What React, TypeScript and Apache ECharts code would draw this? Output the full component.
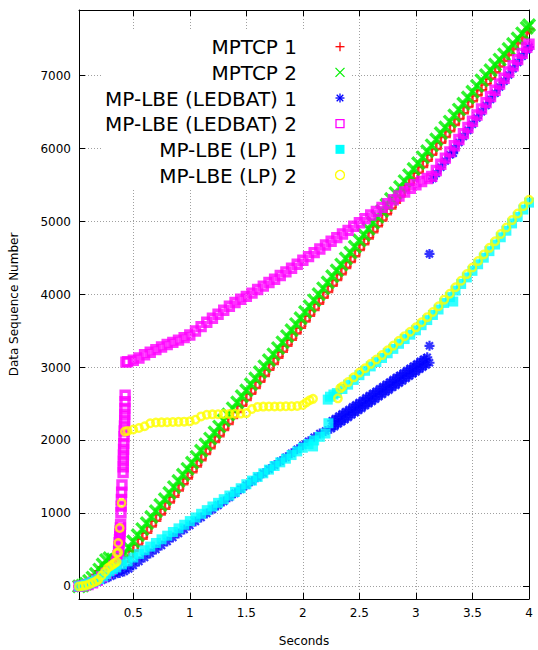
import React, { useEffect, useRef } from "react";
import * as echarts from "echarts";

const X_MIN = 0.02;
const X_MAX = 4;
const Y_MIN = -173;
const Y_MAX = 7900;

const SERIES_NAMES = [
  "MPTCP 1",
  "MPTCP 2",
  "MP-LBE (LEDBAT) 1",
  "MP-LBE (LEDBAT) 2",
  "MP-LBE (LP) 1",
  "MP-LBE (LP) 2",
];
const SERIES_COLORS = ["#ff0000", "#00f000", "#0000ff", "#ff00ff", "#00ffff", "#ffff00"];

const MPTCP_1 = [
  [0.02, 0], [0.05, 8], [0.08, 28], [0.11, 60], [0.14, 100], [0.17, 150], [0.2, 205], [0.23, 260], [0.26, 300], [0.29, 310], [0.32, 300], [0.35, 295], [0.38, 310], [0.42, 340],
  [0.46, 400], [0.5, 485], [0.54, 570], [0.58, 655], [0.62, 735], [0.66, 820], [0.7, 900], [0.74, 985], [0.78, 1065], [0.82, 1150], [0.86, 1230], [0.9, 1315], [0.94, 1400], [0.98, 1480],
  [1.02, 1565], [1.06, 1645], [1.1, 1730], [1.14, 1815], [1.18, 1895], [1.22, 1980], [1.26, 2060], [1.3, 2145], [1.34, 2225], [1.38, 2310], [1.42, 2390], [1.46, 2475], [1.5, 2555],
  [1.54, 2640], [1.58, 2720], [1.62, 2805], [1.66, 2885], [1.7, 2970], [1.74, 3050], [1.78, 3135], [1.82, 3215], [1.86, 3300], [1.9, 3380], [1.94, 3465], [1.98, 3545],
  [2.02, 3630], [2.06, 3710], [2.1, 3790], [2.14, 3875], [2.18, 3955], [2.22, 4035], [2.26, 4120], [2.3, 4200], [2.34, 4280], [2.38, 4365], [2.42, 4445], [2.46, 4525], [2.5, 4610],
  [2.54, 4690], [2.58, 4770], [2.62, 4855], [2.66, 4935], [2.7, 5015], [2.74, 5100], [2.78, 5180], [2.82, 5260], [2.86, 5345], [2.9, 5425], [2.94, 5505], [2.98, 5590],
  [3.02, 5670], [3.06, 5750], [3.1, 5835], [3.14, 5915], [3.18, 5995], [3.22, 6080], [3.26, 6160], [3.3, 6240], [3.34, 6325], [3.38, 6405], [3.42, 6485], [3.46, 6570], [3.5, 6650],
  [3.54, 6730], [3.58, 6800], [3.62, 6880], [3.66, 6960], [3.7, 7045], [3.74, 7125], [3.78, 7205], [3.82, 7285], [3.86, 7365], [3.9, 7445], [3.94, 7525], [3.98, 7600], [4.0, 7640],
];

const MPTCP_2 = [
  [0.02, 0], [0.05, 10], [0.08, 35], [0.11, 75], [0.14, 120], [0.17, 170], [0.2, 230], [0.23, 300], [0.26, 360], [0.29, 385], [0.32, 370], [0.35, 365], [0.38, 390],
  [0.42, 450], [0.46, 530], [0.5, 615], [0.54, 700], [0.58, 785], [0.62, 865], [0.66, 950], [0.7, 1030], [0.74, 1115], [0.78, 1195], [0.82, 1280], [0.86, 1360], [0.9, 1445], [0.94, 1530], [0.98, 1610],
  [1.02, 1695], [1.06, 1775], [1.1, 1860], [1.14, 1945], [1.18, 2025], [1.22, 2110], [1.26, 2190], [1.3, 2275], [1.34, 2355], [1.38, 2440], [1.42, 2520], [1.46, 2605], [1.5, 2685],
  [1.54, 2770], [1.58, 2850], [1.62, 2935], [1.66, 3015], [1.7, 3100], [1.74, 3180], [1.78, 3265], [1.82, 3345], [1.86, 3430], [1.9, 3510], [1.94, 3595], [1.98, 3675],
  [2.02, 3760], [2.06, 3840], [2.1, 3920], [2.14, 4005], [2.18, 4085], [2.22, 4165], [2.26, 4250], [2.3, 4330], [2.34, 4410], [2.38, 4495], [2.42, 4575], [2.46, 4655], [2.5, 4740],
  [2.54, 4820], [2.58, 4900], [2.62, 4985], [2.66, 5065], [2.7, 5145], [2.74, 5230], [2.78, 5310], [2.82, 5390], [2.86, 5475], [2.9, 5555], [2.94, 5635], [2.98, 5720],
  [3.02, 5800], [3.06, 5880], [3.1, 5965], [3.14, 6045], [3.18, 6125], [3.22, 6210], [3.26, 6290], [3.3, 6370], [3.34, 6455], [3.38, 6535], [3.42, 6615], [3.46, 6700], [3.5, 6780],
  [3.54, 6860], [3.58, 6935], [3.62, 7005], [3.66, 7075], [3.7, 7150], [3.74, 7220], [3.78, 7290], [3.82, 7365], [3.86, 7435], [3.9, 7510], [3.94, 7580], [3.98, 7655], [4.0, 7690],
];

const LEDBAT_1 = [
  [0.02, 0], [0.06, 8], [0.1, 20], [0.14, 40], [0.18, 60], [0.22, 85], [0.26, 110], [0.3, 140], [0.34, 165], [0.38, 185], [0.42, 205],
  [0.46, 240], [0.5, 285], [0.55, 340], [0.6, 395], [0.65, 450], [0.7, 505], [0.75, 560], [0.8, 615], [0.85, 670], [0.9, 725], [0.95, 780], [1.0, 835],
  [1.05, 890], [1.1, 945], [1.15, 1000], [1.2, 1055], [1.25, 1110], [1.3, 1165], [1.35, 1220], [1.4, 1275], [1.45, 1330], [1.5, 1385], [1.55, 1440], [1.6, 1495],
  [1.65, 1550], [1.7, 1605], [1.75, 1660], [1.8, 1715], [1.85, 1770], [1.9, 1825], [1.95, 1880], [2.0, 1935], [2.05, 1990], [2.1, 2045], [2.15, 2095], [2.2, 2130],
  [2.25, 2160], [2.28, 2190], [2.31, 2225], [2.34, 2255], [2.37, 2285], [2.4, 2315], [2.43, 2350], [2.46, 2380], [2.49, 2410], [2.52, 2440], [2.55, 2475], [2.58, 2505],
  [2.61, 2535], [2.64, 2565], [2.67, 2600], [2.7, 2630], [2.73, 2660], [2.76, 2690], [2.79, 2725], [2.82, 2755], [2.85, 2785], [2.88, 2815], [2.91, 2850], [2.94, 2880],
  [2.97, 2910], [3.0, 2940], [3.03, 2975], [3.06, 3005], [3.09, 3035], [3.12, 3065],
  [2.26, 2270], [2.29, 2300], [2.32, 2335], [2.35, 2365], [2.38, 2395], [2.41, 2425], [2.44, 2460], [2.47, 2490], [2.5, 2520], [2.53, 2550], [2.56, 2585], [2.59, 2615],
  [2.62, 2645], [2.65, 2675], [2.68, 2710], [2.71, 2740], [2.74, 2770], [2.77, 2800], [2.8, 2835], [2.83, 2865], [2.86, 2895], [2.89, 2925], [2.92, 2960], [2.95, 2990],
  [2.98, 3020], [3.01, 3050], [3.04, 3085], [3.07, 3115], [3.1, 3140],
  [3.12, 3297], [3.12, 4557],
  [3.15, 5590], [3.18, 5660], [3.22, 5745], [3.26, 5830], [3.3, 5915], [3.33, 5937], [3.34, 6000], [3.38, 6085], [3.42, 6165], [3.46, 6250], [3.5, 6335],
  [3.54, 6420], [3.58, 6505], [3.62, 6590], [3.66, 6675], [3.7, 6760], [3.74, 6845], [3.78, 6925], [3.82, 7010], [3.86, 7095], [3.9, 7180], [3.94, 7265], [3.98, 7350], [4.0, 7390],
];

const LEDBAT_2 = [
  [0.02, 0], [0.06, 10], [0.1, 25], [0.14, 50], [0.18, 85], [0.22, 130], [0.26, 180], [0.3, 230], [0.33, 280], [0.35, 330], [0.36, 365], [0.365, 420], [0.37, 480],
  [0.372, 540], [0.375, 600], [0.378, 640], [0.38, 680], [0.382, 720], [0.384, 760], [0.386, 800], [0.388, 850], [0.391, 1010], [0.393, 1100], [0.395, 1190], [0.397, 1290],
  [0.4, 1390], [0.41, 1560], [0.411, 1640], [0.412, 1720], [0.413, 1800], [0.414, 1880], [0.416, 1960], [0.418, 2050], [0.42, 2130], [0.422, 2200], [0.424, 2280],
  [0.425, 2360], [0.426, 2440], [0.427, 2530], [0.428, 2620],
  [0.435, 3074], [0.45, 3080], [0.5, 3100], [0.55, 3130], [0.6, 3175], [0.65, 3210], [0.7, 3245], [0.75, 3280], [0.8, 3315], [0.85, 3345], [0.9, 3375], [0.95, 3410],
  [1.0, 3445], [1.05, 3500], [1.1, 3560], [1.15, 3620], [1.2, 3675], [1.25, 3730], [1.3, 3785], [1.35, 3840], [1.4, 3890], [1.45, 3935], [1.5, 3975], [1.55, 4020],
  [1.6, 4070], [1.65, 4115], [1.7, 4165], [1.75, 4210], [1.8, 4260], [1.85, 4310], [1.9, 4360], [1.95, 4415], [2.0, 4470], [2.05, 4520], [2.1, 4575], [2.15, 4625],
  [2.2, 4680], [2.25, 4730], [2.3, 4780], [2.35, 4830], [2.4, 4880], [2.45, 4935], [2.5, 4985], [2.55, 5040], [2.6, 5090], [2.65, 5140], [2.7, 5195], [2.75, 5245],
  [2.8, 5300], [2.85, 5350], [2.9, 5405], [2.95, 5455], [3.0, 5505], [3.05, 5550], [3.1, 5590], [3.14, 5620], [3.18, 5700], [3.22, 5785], [3.26, 5870], [3.3, 5955],
  [3.34, 6040], [3.38, 6125], [3.42, 6205], [3.46, 6290], [3.5, 6375], [3.54, 6460], [3.58, 6545], [3.62, 6630], [3.66, 6715], [3.7, 6800], [3.74, 6885], [3.78, 6965],
  [3.82, 7050], [3.86, 7135], [3.9, 7220], [3.94, 7305], [3.98, 7390], [4.0, 7430],
];

const LP_1 = [
  [0.02, 0], [0.05, 10], [0.08, 25], [0.11, 40], [0.14, 60], [0.17, 80], [0.2, 100], [0.235, 137], [0.26, 170], [0.29, 205], [0.32, 235], [0.35, 260], [0.4, 300],
  [0.45, 342], [0.5, 395], [0.55, 445], [0.6, 495], [0.65, 545], [0.7, 595], [0.75, 645], [0.8, 695], [0.85, 745], [0.9, 795], [0.95, 845], [1.0, 895],
  [1.05, 945], [1.1, 995], [1.15, 1045], [1.2, 1095], [1.25, 1145], [1.3, 1195], [1.35, 1245], [1.4, 1295], [1.45, 1345], [1.5, 1400], [1.55, 1450], [1.6, 1500],
  [1.65, 1550], [1.7, 1600], [1.75, 1650], [1.8, 1700], [1.85, 1750], [1.9, 1800], [1.95, 1850], [2.0, 1900], [2.05, 1950], [2.09, 1918], [2.1, 2000], [2.15, 2050],
  [2.2, 2095], [2.226, 2236],
  [2.22, 2560], [2.24, 2600], [2.27, 2630], [2.3, 2650], [2.35, 2705], [2.4, 2765], [2.45, 2830], [2.5, 2895], [2.55, 2955], [2.6, 3015], [2.65, 3075], [2.7, 3130],
  [2.75, 3195], [2.8, 3255], [2.85, 3325], [2.9, 3390], [2.95, 3450], [3.0, 3510], [3.05, 3580], [3.1, 3650], [3.15, 3720], [3.2, 3795], [3.25, 3885], [3.3, 3965],
  [3.33, 3904], [3.35, 4055], [3.4, 4145], [3.45, 4235], [3.5, 4325], [3.55, 4415], [3.6, 4505], [3.65, 4595], [3.7, 4685], [3.75, 4785], [3.8, 4875], [3.85, 4975],
  [3.9, 5065], [3.95, 5165], [4.0, 5260],
];

const LP_2 = [
  [0.02, 0], [0.05, 5], [0.08, 12], [0.11, 30], [0.14, 50], [0.17, 70], [0.19, 92], [0.22, 150], [0.25, 200], [0.275, 252], [0.3, 280], [0.32, 300], [0.335, 320],
  [0.353, 338], [0.355, 457], [0.367, 466], [0.367, 594], [0.38, 800], [0.397, 1142],
  [0.426, 2123], [0.45, 2130], [0.5, 2150], [0.55, 2170], [0.6, 2195], [0.65, 2235], [0.7, 2245], [0.75, 2248], [0.8, 2250], [0.85, 2252], [0.9, 2255], [0.95, 2258],
  [1.0, 2262], [1.05, 2285], [1.1, 2330], [1.15, 2352], [1.2, 2358], [1.25, 2360], [1.3, 2362], [1.35, 2364], [1.4, 2366], [1.45, 2368], [1.5, 2375], [1.55, 2430],
  [1.6, 2460], [1.65, 2464], [1.7, 2465], [1.75, 2466], [1.8, 2467], [1.85, 2468], [1.9, 2470], [1.95, 2472], [2.0, 2485], [2.03, 2520], [2.06, 2550], [2.09, 2570],
  [2.31, 2577], [2.33, 2714], [2.35, 2740], [2.4, 2800], [2.45, 2865], [2.5, 2930], [2.55, 2990], [2.6, 3050], [2.65, 3110], [2.7, 3170], [2.75, 3235], [2.8, 3300],
  [2.85, 3365], [2.9, 3430], [2.95, 3490], [3.0, 3550], [3.05, 3620], [3.1, 3690], [3.15, 3760], [3.2, 3840], [3.25, 3930], [3.3, 4010], [3.35, 4100], [3.4, 4190],
  [3.45, 4280], [3.5, 4370], [3.55, 4460], [3.6, 4550], [3.65, 4640], [3.7, 4730], [3.75, 4830], [3.8, 4920], [3.85, 5020], [3.9, 5110], [3.95, 5210], [4.0, 5300],
];

const SERIES_DATA = [MPTCP_1, MPTCP_2, LEDBAT_1, LEDBAT_2, LP_1, LP_2];

const PLUS = "path://M0,5L10,5M5,0L5,10";
const CROSS = "path://M0,0L10,10M10,0L0,10";
const STAR = "path://M0,5L10,5M5,0L5,10M1.5,1.5L8.5,8.5M8.5,1.5L1.5,8.5";

const FONT = "DejaVu Sans";

function seriesStyle(i: number) {
  const c = SERIES_COLORS[i];
  switch (i) {
    case 0:
      return { symbol: PLUS, symbolSize: 11, itemStyle: { color: c, borderColor: c, borderWidth: 2.6 } };
    case 1:
      return { symbol: CROSS, symbolSize: 12, itemStyle: { color: c, borderColor: c, borderWidth: 3.4 } };
    case 2:
      return { symbol: STAR, symbolSize: 10, itemStyle: { color: c, borderColor: c, borderWidth: 2.2 } };
    case 3:
      return { symbol: "rect", symbolSize: 8, itemStyle: { color: "transparent", borderColor: c, borderWidth: 3.4 } };
    case 4:
      return { symbol: "rect", symbolSize: 10, itemStyle: { color: c, borderColor: c, borderWidth: 0 } };
    default:
      return { symbol: "circle", symbolSize: 7.5, itemStyle: { color: "transparent", borderColor: c, borderWidth: 2.4 } };
  }
}

function legendGraphics() {
  const els: any[] = [];
  els.push({
    type: "rect",
    z: 1,
    shape: { x: 102, y: 31, width: 250, height: 158 },
    style: { fill: "#ffffff" },
    silent: true,
  });
  const textRight = 297;
  const symX = 340;
  SERIES_NAMES.forEach((name, i) => {
    const cy = 46.7 + i * 25.66;
    const c = SERIES_COLORS[i];
    els.push({
      type: "text",
      z: 3,
      x: textRight,
      y: cy + 0.5,
      style: {
        text: name,
        fill: "#000000",
        fontSize: 20,
        fontFamily: FONT,
        align: "right",
        verticalAlign: "middle",
      },
    });
    const h = 4.5;
    const ls = { stroke: c, lineWidth: 1.3 };
    if (i === 0 || i === 2) {
      els.push({ type: "line", z: 3, shape: { x1: symX - h, y1: cy, x2: symX + h, y2: cy }, style: ls });
      els.push({ type: "line", z: 3, shape: { x1: symX, y1: cy - h, x2: symX, y2: cy + h }, style: ls });
    }
    if (i === 1) {
      els.push({ type: "line", z: 3, shape: { x1: symX - h, y1: cy - h, x2: symX + h, y2: cy + h }, style: ls });
      els.push({ type: "line", z: 3, shape: { x1: symX - h, y1: cy + h, x2: symX + h, y2: cy - h }, style: ls });
    }
    if (i === 2) {
      const d = 3.3;
      els.push({ type: "line", z: 3, shape: { x1: symX - d, y1: cy - d, x2: symX + d, y2: cy + d }, style: ls });
      els.push({ type: "line", z: 3, shape: { x1: symX - d, y1: cy + d, x2: symX + d, y2: cy - d }, style: ls });
    }
    if (i === 3) {
      els.push({ type: "rect", z: 3, shape: { x: symX - 4, y: cy - 4, width: 8, height: 8 }, style: { fill: "none", stroke: c, lineWidth: 1.3 } });
    }
    if (i === 4) {
      els.push({ type: "rect", z: 3, shape: { x: symX - 4.5, y: cy - 4.5, width: 9, height: 9 }, style: { fill: c } });
    }
    if (i === 5) {
      els.push({ type: "circle", z: 3, shape: { cx: symX, cy: cy, r: 4.5 }, style: { fill: "none", stroke: c, lineWidth: 1.3 } });
    }
  });
  return els;
}

const xLabel = (v: number) => (Math.abs(v * 2 - Math.round(v * 2)) < 1e-6 ? String(Math.round(v * 10) / 10) : "");
const yLabel = (v: number) => (Math.abs(v / 1000 - Math.round(v / 1000)) < 1e-6 ? String(Math.round(v)) : "");

export default function App() {
  const ref = useRef<HTMLDivElement>(null);
  useEffect(() => {
    if (!ref.current) return;
    const chart = echarts.init(ref.current, null, { renderer: "svg" });
    const axisLine = { show: true, onZero: false, lineStyle: { color: "#000000", width: 1 } };
    const axisTick = { show: true, inside: true, length: 6, lineStyle: { color: "#000000", width: 1 } };
    const splitLine = {
      show: true,
      showMinLine: false,
      showMaxLine: false,
      lineStyle: { color: "#a0a0a0", width: 1, type: [1, 2] },
    };
    const labelStyle = { color: "#000000", fontSize: 12, fontFamily: FONT };
    chart.setOption({
      animation: false,
      backgroundColor: "#ffffff",
      textStyle: { fontFamily: FONT },
      grid: { left: 79, right: 9, top: 10, bottom: 51, containLabel: false, outerBoundsMode: "none" },
      xAxis: [
        {
          type: "value",
          min: X_MIN,
          max: X_MAX,
          splitNumber: 8,
          position: "bottom",
          axisLine,
          axisTick,
          splitLine,
          axisLabel: { ...labelStyle, margin: 8, formatter: xLabel, showMinLabel: false },
          name: "Seconds",
          nameLocation: "middle",
          nameGap: 36,
          nameTextStyle: labelStyle,
        },
        {
          type: "value",
          min: X_MIN,
          max: X_MAX,
          splitNumber: 8,
          position: "top",
          axisLine,
          axisTick,
          splitLine: { show: false },
          axisLabel: { show: false },
        },
      ],
      yAxis: [
        {
          type: "value",
          min: Y_MIN,
          max: Y_MAX,
          splitNumber: 8,
          position: "left",
          axisLine,
          axisTick,
          splitLine,
          axisLabel: { ...labelStyle, margin: 8, formatter: yLabel },
          name: "Data Sequence Number",
          nameLocation: "middle",
          nameGap: 59,
          nameTextStyle: labelStyle,
        },
        {
          type: "value",
          min: Y_MIN,
          max: Y_MAX,
          splitNumber: 8,
          position: "right",
          axisLine,
          axisTick,
          splitLine: { show: false },
          axisLabel: { show: false },
        },
      ],
      series: SERIES_DATA.map((data, i) => ({
        name: SERIES_NAMES[i],
        type: "scatter",
        xAxisIndex: 0,
        yAxisIndex: 0,
        data,
        ...seriesStyle(i),
      })),
      graphic: legendGraphics(),
    });
    return () => chart.dispose();
  }, []);
  return (
    <div
      ref={ref}
      style={{ position: "fixed", left: 0, top: 0, width: 538, height: 650, background: "#ffffff" }}
    />
  );
}
